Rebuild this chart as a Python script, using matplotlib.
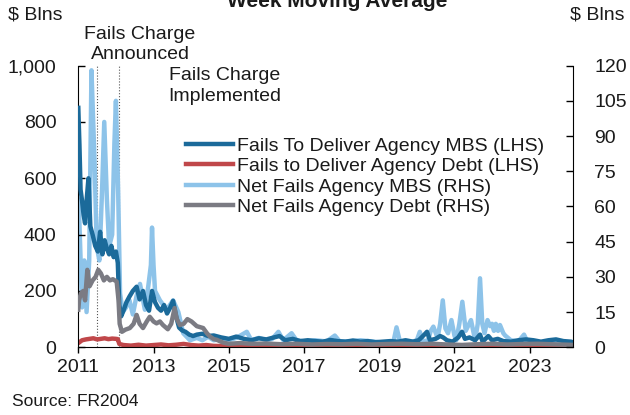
import matplotlib
matplotlib.use("Agg")
import matplotlib.pyplot as plt
from matplotlib.ticker import StrMethodFormatter

plt.rcParams['font.family'] = ['Liberation Sans', 'DejaVu Sans']
plt.rcParams['text.color'] = '#1a1a1a'

# %% data (decimal years, $ bn)
mbs_ftd_t = [2011.00, 2011.03, 2011.06, 2011.10, 2011.14, 2011.18, 2011.22, 2011.27, 2011.32, 2011.38,
             2011.45, 2011.52, 2011.58, 2011.64, 2011.70, 2011.76, 2011.82, 2011.88, 2011.94, 2012.00,
             2012.05, 2012.09, 2012.14, 2012.20, 2012.28, 2012.36, 2012.45, 2012.55, 2012.63, 2012.72,
             2012.80, 2012.88, 2012.96, 2013.04, 2013.12, 2013.20, 2013.28, 2013.36, 2013.44, 2013.52,
             2013.60, 2013.68, 2013.76, 2013.85, 2013.95, 2014.05, 2014.15, 2014.30, 2014.45, 2014.60,
             2014.80, 2015.00, 2015.20, 2015.40, 2015.60, 2015.80, 2016.00, 2016.20, 2016.35, 2016.50,
             2016.70, 2016.90, 2017.10, 2017.30, 2017.50, 2017.70, 2017.90, 2018.10, 2018.30, 2018.50,
             2018.70, 2018.90, 2019.10, 2019.30, 2019.50, 2019.70, 2019.90, 2020.05, 2020.20, 2020.27,
             2020.35, 2020.50, 2020.62, 2020.70, 2020.80, 2020.95, 2021.10, 2021.20, 2021.28, 2021.40,
             2021.55, 2021.68, 2021.75, 2021.90, 2022.00, 2022.15, 2022.30, 2022.50, 2022.70, 2022.90,
             2023.10, 2023.30, 2023.50, 2023.70, 2023.90, 2024.10, 2024.20]
mbs_ftd = [850, 720, 560, 520, 470, 440, 520, 600, 430, 400,
           360, 340, 410, 330, 380, 350, 330, 360, 320, 340,
           300, 150, 110, 130, 160, 180, 200, 215, 170, 200,
           150, 130, 200, 160, 140, 130, 150, 120, 140, 165,
           110, 70, 60, 55, 45, 40, 45, 48, 40, 42,
           35, 30, 38, 30, 25, 32, 28, 35, 40, 25,
           30, 22, 25, 22, 20, 26, 22, 20, 24, 20,
           22, 18, 20, 22, 20, 25, 20, 25, 45, 55,
           25, 30, 40, 35, 25, 20, 35, 55, 30, 35,
           25, 45, 20, 40, 25, 30, 22, 20, 25, 28,
           25, 20, 25, 28, 22, 20, 15]

debt_ftd_t = [2011.00, 2011.05, 2011.10, 2011.20, 2011.30, 2011.40, 2011.50, 2011.60, 2011.70, 2011.80,
              2011.90, 2012.00, 2012.05, 2012.09, 2012.20, 2012.40, 2012.60, 2012.80, 2013.00, 2013.20,
              2013.40, 2013.60, 2013.80, 2014.00, 2014.20, 2014.40, 2014.60, 2015.00, 2015.50, 2016.00,
              2016.50, 2017.00, 2017.50, 2018.00, 2018.50, 2019.00, 2019.50, 2020.00, 2020.50, 2021.00,
              2021.50, 2022.00, 2022.50, 2023.00, 2023.50, 2024.20]
debt_ftd = [15, 20, 25, 28, 30, 32, 28, 30, 32, 29,
            31, 30, 29, 12, 8, 6, 9, 6, 8, 10,
            7, 9, 12, 8, 6, 8, 5, 4, 3, 4,
            3, 3, 4, 3, 3, 4, 3, 3, 2, 2,
            3, 2, 3, 2, 3, 2]

mbs_net_t = [2011.00, 2011.01, 2011.05, 2011.10, 2011.16, 2011.22, 2011.29, 2011.35, 2011.43, 2011.49,
             2011.56, 2011.63, 2011.69, 2011.76, 2011.82, 2011.90, 2011.96, 2012.00, 2012.06, 2012.11,
             2012.18, 2012.27, 2012.36, 2012.45, 2012.55, 2012.64, 2012.77, 2012.86, 2012.93, 2012.96,
             2013.00, 2013.04, 2013.17, 2013.35, 2013.52, 2013.66, 2013.79, 2013.97, 2014.15, 2014.30,
             2014.45, 2014.60, 2014.80, 2015.00, 2015.20, 2015.48, 2015.60, 2015.80, 2016.00, 2016.15,
             2016.32, 2016.45, 2016.67, 2016.80, 2017.00, 2017.30, 2017.60, 2017.82, 2017.95, 2018.20,
             2018.50, 2018.80, 2019.10, 2019.38, 2019.46, 2019.55, 2019.80, 2020.00, 2020.08, 2020.16,
             2020.30, 2020.37, 2020.44, 2020.55, 2020.62, 2020.69, 2020.76, 2020.83, 2020.92, 2021.00,
             2021.05, 2021.13, 2021.21, 2021.30, 2021.44, 2021.55, 2021.62, 2021.68, 2021.74, 2021.80,
             2021.88, 2021.95, 2022.00, 2022.05, 2022.10, 2022.16, 2022.21, 2022.30, 2022.35, 2022.50,
             2022.70, 2022.85, 2022.95, 2023.20, 2023.50, 2023.80, 2024.00, 2024.20]
mbs_net = [55, 63, 43, 17, 37, 15, 37, 118, 80, 43,
           37, 66, 96, 63, 43, 48, 87, 105, 66, 23,
           15, 17, 20, 14, 22, 27, 16, 26, 35, 51,
           35, 24, 20, 16, 20, 15, 6, 3, 4, 3,
           4.5, 3, 3.5, 3, 4, 6.6, 3, 4, 3, 3.5,
           6.6, 3, 6, 3, 2.5, 3, 2.5, 5, 2.5, 2.5,
           3, 2.5, 2, 2.5, 8.5, 2.5, 2, 3, 6.6, 2.5,
           3, 7, 8.8, 4, 10, 20, 8, 6, 11.6, 5,
           3, 10, 19.4, 7, 11.6, 3, 10, 29.4, 10, 6,
           11.6, 9, 10, 7, 10, 7, 9.5, 6, 5, 3,
           2.5, 5.4, 2, 2, 1.5, 2, 1.5, 1]

debt_net_t = [2011.00, 2011.02, 2011.07, 2011.13, 2011.18, 2011.24, 2011.30, 2011.38, 2011.46, 2011.53,
              2011.60, 2011.68, 2011.76, 2011.84, 2011.92, 2012.02, 2012.07, 2012.10, 2012.16, 2012.25,
              2012.37, 2012.47, 2012.55, 2012.63, 2012.72, 2012.82, 2012.90, 2013.00, 2013.08, 2013.17,
              2013.25, 2013.38, 2013.47, 2013.56, 2013.62, 2013.70, 2013.80, 2013.90, 2014.01, 2014.15,
              2014.32, 2014.42, 2014.50, 2014.60, 2014.68, 2014.85, 2015.00, 2015.30, 2015.60, 2016.00,
              2016.40, 2016.80, 2017.20, 2017.60, 2018.00, 2018.40, 2018.80, 2019.20, 2019.60, 2020.00,
              2020.40, 2020.80, 2021.20, 2021.60, 2022.00, 2022.40, 2022.80, 2023.20, 2023.60, 2024.00,
              2024.20]
debt_net = [16, 20, 23, 24, 20, 33, 26, 28.5, 30, 33,
            31.5, 28.5, 30, 28.5, 29, 28, 20, 10, 6.6, 7.5,
            8.2, 10, 13.8, 10, 8.2, 11, 13, 11, 10.2, 11,
            9.5, 7.7, 10, 16.7, 12, 9.5, 10, 12, 11, 9,
            8.2, 6, 4.6, 3.5, 3.2, 2, 1.5, 1.8, 1.5, 1.6,
            1.3, 1.5, 1.2, 1.4, 1.3, 1.5, 1.2, 1.4, 1.5, 1.3,
            1.5, 1.2, 1.0, 1.3, 1.5, 1.2, 1.4, 1.5, 1.3, 1.1,
            1.0]

event_dates = [2011.5, 2012.09]
year_ticks = [2011, 2013, 2015, 2017, 2019, 2021, 2023]
lhs_ticks = [0, 200, 400, 600, 800, 1000]
rhs_ticks = [0, 15, 30, 45, 60, 75, 90, 105, 120]

# %% figure
W, H = 630, 415
fig = plt.figure(figsize=(W / 100, H / 100), dpi=100)
ax = fig.add_axes([78.3 / W, 1 - 347.3 / H, (573.3 - 78.3) / W, (347.3 - 65.6) / H])
ax2 = ax.twinx()

ax.set_xlim(2011.0, 2024.16)
ax.set_ylim(0, 1000)
ax2.set_ylim(0, 120)

lw = 3.2
# RHS series drawn into ax with ax2's data transform so stacking order matches
l_mbs_net, = ax.plot(mbs_net_t, mbs_net, color='#8DC3E9', lw=lw, zorder=1,
                     transform=ax2.transData, label='Net Fails Agency MBS (RHS)')
l_debt_ftd, = ax.plot(debt_ftd_t, debt_ftd, color='#C0474A', lw=lw, zorder=2,
                      label='Fails to Deliver Agency Debt (LHS)')
l_mbs_ftd, = ax.plot(mbs_ftd_t, mbs_ftd, color='#1B6A9A', lw=lw, zorder=3,
                     label='Fails To Deliver Agency MBS (LHS)')
l_debt_net, = ax.plot(debt_net_t, debt_net, color='#7B7B83', lw=lw, zorder=4,
                      transform=ax2.transData, label='Net Fails Agency Debt (RHS)')

for d in event_dates:
    ax.axvline(d, color='#555555', lw=0.8, ls=':', zorder=0.5)

ax.set_xticks(year_ticks)
ax.set_yticks(lhs_ticks)
ax.yaxis.set_major_formatter(StrMethodFormatter('{x:,.0f}'))
ax2.set_yticks(rhs_ticks)

for a in (ax, ax2):
    a.spines['top'].set_visible(False)
ax.spines['right'].set_visible(False)
ax2.spines['left'].set_visible(False)
ax2.spines['bottom'].set_visible(False)

ax.tick_params(axis='x', direction='out', length=4.5, width=1, pad=4, labelsize=14, labelcolor='#1a1a1a')
ax.tick_params(axis='y', direction='in', length=5, width=1, pad=15.8, labelsize=14, labelcolor='#1a1a1a')
ax2.tick_params(axis='y', direction='in', length=5, width=1, pad=15, labelsize=14, labelcolor='#1a1a1a')

ax.legend(handles=[l_mbs_ftd, l_debt_ftd, l_mbs_net, l_debt_net],
          loc='upper left', bbox_to_anchor=(186 / W, 1 - 137 / H), bbox_transform=fig.transFigure,
          frameon=False, fontsize=14, borderpad=0, borderaxespad=0,
          handlelength=2.4, handletextpad=0.2, labelspacing=0.15)

fig.text(8 / W, 1 - 15 / H, '$ Blns', fontsize=14, ha='left', va='center')
fig.text(624 / W, 1 - 15 / H, '$ Blns', fontsize=14, ha='right', va='center')
fig.text(337 / W, 1 - 7 / H, 'Week Moving Average', fontsize=15, fontweight='bold',
         ha='center', va='baseline')
fig.text(140 / W, 1 - 44.5 / H, 'Fails Charge\nAnnounced', fontsize=14, ha='center', va='center',
         linespacing=1.25)
fig.text(225 / W, 1 - 86 / H, 'Fails Charge\nImplemented', fontsize=14, ha='center', va='center',
         linespacing=1.25)
fig.text(12 / W, 1 - 401 / H, 'Source: FR2004', fontsize=12.5, ha='left', va='center')

fig.savefig('out.png', dpi=100)
